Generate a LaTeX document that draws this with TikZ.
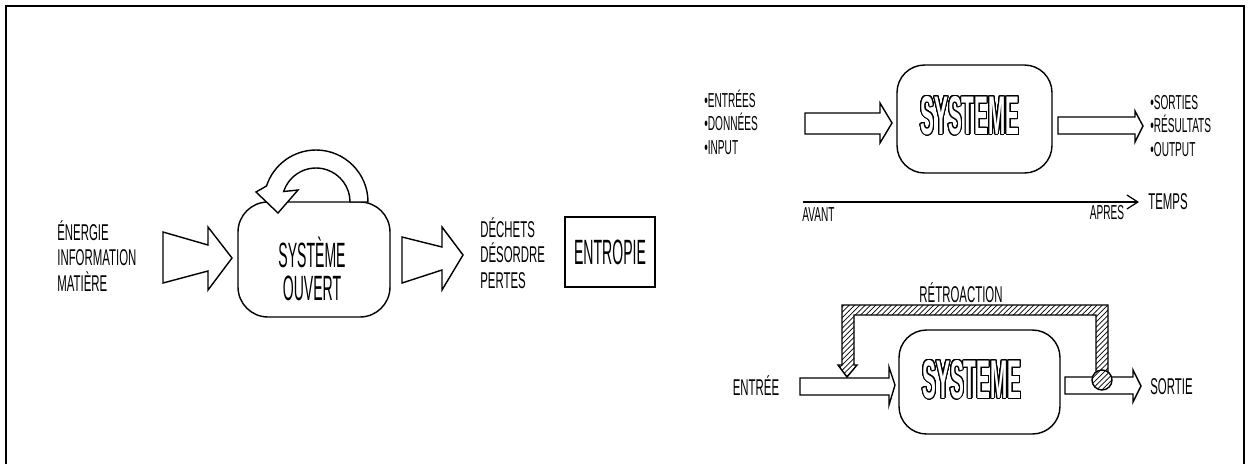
\documentclass[tikz,border=0pt]{standalone}
\usepackage{fontspec}
\usepackage{contour}
\usetikzlibrary{arrows.meta,positioning,calc,patterns}
\newfontfamily\handfont[FakeStretch=0.5]{Liberation Sans}
\newfontfamily\boxfont[FakeStretch=0.4]{Liberation Sans}
\newfontfamily\sysfont[FakeStretch=0.38]{Liberation Sans}
\contourlength{0.6pt}
\contournumber{24}

\begin{document}
\begin{tikzpicture}[x=0.02cm, y=-0.02cm,
    every node/.style={font=\handfont\fontsize{13}{14.5}\selectfont, inner sep=0pt},
    listnode/.style={align=left, anchor=west},
    smalllist/.style={listnode, font=\handfont\fontsize{11.5}{13.4}\selectfont},
    boxtitle/.style={font=\boxfont\fontsize{20}{18.5}\selectfont, align=center},
    systitle/.style={font=\sysfont\bfseries\fontsize{31}{31}\selectfont, text=white},
    roundbox/.style={draw, line width=0.8pt, rounded corners=0.55cm},
    fatarrow/.style={draw, line width=0.8pt, fill=white, line join=miter},
    hatched/.style={draw, line width=0.8pt, pattern=north east lines, preaction={fill=white}},
]
\useasboundingbox (0,0) rectangle (1248,464);

% Frame (open at the bottom)
\draw[line width=1.5pt] (6,464) |- (1244,6) -- (1244,464);

% Open system
\node[listnode] (inOuvert) at (57,256) {ÉNERGIE\\INFORMATION\\MATIÈRE};
\draw[fatarrow] (163,232) -- (208,245) -- (208,227) -- (232,258) -- (208,290)
    -- (208,271) -- (163,283) -- cycle;
\node[roundbox, minimum width=3.04cm, minimum height=2.3cm, rounded corners=0.6cm]
    (sysOuvert) at (314,259.5) {};
\node[boxtitle] (sysOuvertTxt) at (312,269) {SYSTÈME\\OUVERT};

% Loop on top of the box
\draw[fatarrow] (368,202) arc[start angle=0, end angle=-162, radius=52]
    -- (256,192) -- (278,213) -- (298,190) -- (283.7,191.5)
    arc[start angle=-162, end angle=0, radius=34] -- cycle;

\draw[fatarrow] (402,237) -- (442,247) -- (442,227) -- (463,255) -- (442,290)
    -- (442,270) -- (402,283) -- cycle;
\node[listnode] (outOuvert) at (480,253) {DÉCHETS\\DÉSORDRE\\PERTES};
\node[draw, line width=0.8pt, minimum width=1.8cm, minimum height=1.4cm, boxtitle]
    (entropie) at (610,252) {ENTROPIE};

% Input / output over time
\node[smalllist] (inputs) at (704,122) {•ENTRÉES\\•DONNÉES\\•INPUT};
\draw[fatarrow] (805,113) -- (880,113) -- (880,103) -- (892,123) -- (880,143)
    -- (880,134) -- (805,134) -- cycle;
\node[roundbox, minimum width=3.1cm, minimum height=2.16cm] (sysTop) at (974.5,119) {};
\node[systitle] (sysTopTxt) at (970,116) {\contour{black}{SYSTEME}};
\draw[fatarrow] (1058,117) -- (1135,117) -- (1135,111) -- (1143,126) -- (1135,142)
    -- (1135,134) -- (1058,134) -- cycle;
\node[smalllist] (outputs) at (1150,126) {•SORTIES\\•RÉSULTATS\\•OUTPUT};

\coordinate (avantPt) at (803,202);
\coordinate (apresPt) at (1139,202);
\draw[line width=0.7pt, -{Straight Barb[length=2.2mm, width=2.8mm]}] (avantPt) -- (apresPt);
\node[anchor=north west, font=\handfont\fontsize{11.5}{12}\selectfont] (avant) at (802,207) {AVANT};
\node[font=\handfont\fontsize{11.5}{12}\selectfont] (apres) at (1107,213) {APRES};
\node[anchor=west] (temps) at (1148,202) {TEMPS};

% Feedback loop
\node (entree) at (756,386) {ENTRÉE};
\draw[fatarrow] (800,378) -- (889,378) -- (889,367) -- (895,385) -- (889,405)
    -- (889,395) -- (800,395) -- cycle;
\node[roundbox, minimum width=3.22cm, minimum height=2.08cm] (sysBot) at (979.5,382) {};
\node[systitle] (sysBotTxt) at (972,380) {\contour{black}{SYSTEME}};
\draw[fatarrow] (1065,377) -- (1133,377) -- (1133,370) -- (1141,386) -- (1133,402)
    -- (1133,394) -- (1065,394) -- cycle;
\node[anchor=west] (sortie) at (1150,387) {SORTIE};

\draw[hatched] (847,377) -- (838,365) -- (842,365) -- (842,305) -- (1108,305)
    -- (1108,373) -- (1096,373) -- (1096,315) -- (854,315) -- (854,365)
    -- (857,365) -- cycle;
\draw[hatched] (1102,380) circle (10);
\node (retro) at (961,293) {RÉTROACTION};

\end{tikzpicture}
\end{document}
